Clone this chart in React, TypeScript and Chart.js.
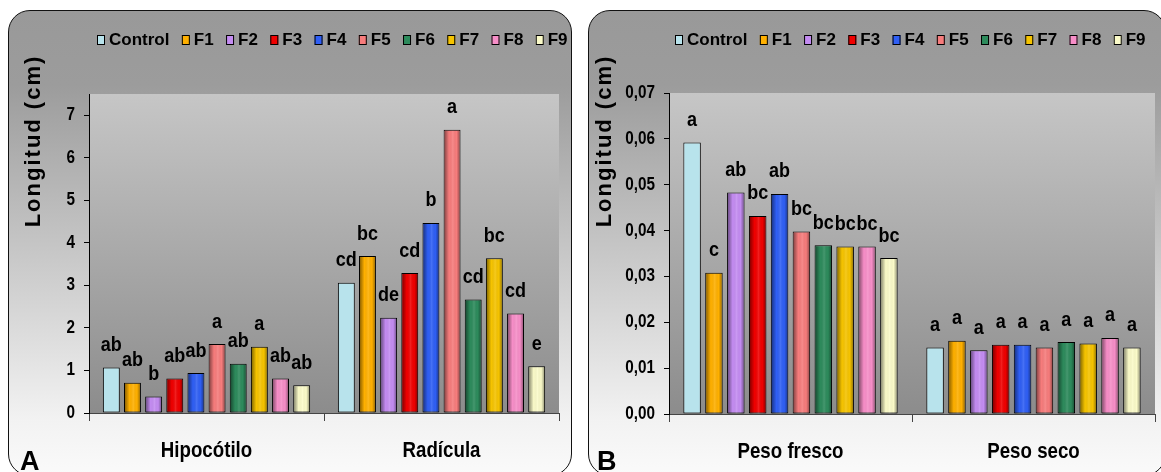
import React, { useEffect, useRef } from "react";
import { Chart, registerables } from "chart.js";

Chart.register(...registerables);

// ---------- data ----------
const seriesNames = ["Control", "F1", "F2", "F3", "F4", "F5", "F6", "F7", "F8", "F9"];

const categoriesA = ["Hipocótilo", "Radícula"];
const hipocotilo = [1.07, 0.71, 0.39, 0.81, 0.94, 1.62, 1.16, 1.56, 0.81, 0.65];
const radicula = [3.06, 3.69, 2.24, 3.29, 4.47, 6.66, 2.67, 3.64, 2.34, 1.1];
const lettersHipocotilo = ["ab", "ab", "b", "ab", "ab", "a", "ab", "a", "ab", "ab"];
const lettersRadicula = ["cd", "bc", "de", "cd", "b", "a", "cd", "bc", "cd", "e"];
const yTicksA = [0, 1, 2, 3, 4, 5, 6, 7];

const categoriesB = ["Peso fresco", "Peso seco"];
const pesoFresco = [0.0592, 0.0308, 0.0483, 0.0432, 0.048, 0.0398, 0.0368, 0.0365, 0.0365, 0.034];
const pesoSeco = [0.0145, 0.016, 0.0139, 0.0151, 0.0151, 0.0145, 0.0157, 0.0154, 0.0166, 0.0145];
const lettersPesoFresco = ["a", "c", "ab", "bc", "ab", "bc", "bc", "bc", "bc", "bc"];
const lettersPesoSeco = ["a", "a", "a", "a", "a", "a", "a", "a", "a", "a"];
const yTicksB = [0, 0.01, 0.02, 0.03, 0.04, 0.05, 0.06, 0.07];

const yTitle = "Longitud (cm)";

// ---------- styles ----------
const seriesColors = [
  "#b8e3ec", "#ffb000", "#c48cf2", "#f00000", "#2f5ff5",
  "#f77c7c", "#2d8b5c", "#f6c400", "#f78ec8", "#fbfbc9",
];
const FAMILY = "'Liberation Sans', Arial, sans-serif";
const SQUEEZE = 0.85;

type PanelCfg = {
  categories: string[];
  values: number[][];
  letters: string[][];
  yTicks: number[];
  yMax: number;
  fmt: (v: number) => string;
  padTop: number;
  padRight: number;
  xHeight: number;
  titleX: number;
  titleY: number;
  legendX: number;
  legendY: number;
  panelLetter: string;
  panelLetterX: number;
};

function drawText(
  ctx: CanvasRenderingContext2D,
  text: string,
  x: number,
  y: number,
  font: string,
  sx: number,
  align: CanvasTextAlign,
  baseline: CanvasTextBaseline
) {
  ctx.save();
  ctx.translate(x, y);
  ctx.scale(sx, 1);
  ctx.font = font;
  ctx.textAlign = align;
  ctx.textBaseline = baseline;
  ctx.fillStyle = "#000";
  ctx.fillText(text, 0, 0);
  ctx.restore();
}

function makeDecor(cfg: PanelCfg) {
  return {
    id: "panelDecor",
    beforeDraw(chart: any) {
      const { ctx, chartArea: a } = chart;
      const g = ctx.createLinearGradient(0, a.top, 0, a.bottom);
      g.addColorStop(0, "#c6c6c6");
      g.addColorStop(1, "#8c8c8c");
      ctx.save();
      ctx.fillStyle = g;
      ctx.fillRect(a.left, a.top, a.right - a.left, a.bottom - a.top);
      ctx.restore();
    },
    afterDatasetsDraw(chart: any) {
      const { ctx } = chart;
      ctx.save();
      chart.data.datasets.forEach((ds: any, i: number) => {
        const meta = chart.getDatasetMeta(i);
        meta.data.forEach((el: any, j: number) => {
          const p = el.getProps(["x", "y", "base", "width"], true);
          const l = p.x - p.width / 2 + 1;
          const r = p.x + p.width / 2 - 1;
          if (i !== 0 && r > l) {
            const g = ctx.createLinearGradient(l, 0, r, 0);
            g.addColorStop(0, "rgba(0,0,0,0.42)");
            g.addColorStop(0.3, "rgba(0,0,0,0)");
            g.addColorStop(0.55, "rgba(255,255,255,0.12)");
            g.addColorStop(0.8, "rgba(0,0,0,0)");
            g.addColorStop(1, "rgba(0,0,0,0.34)");
            ctx.fillStyle = g;
            ctx.fillRect(l, p.y + 1, r - l, p.base - p.y - 1);
          }
          drawText(ctx, ds.letters[j], p.x, p.y - 22, `bold 20px ${FAMILY}`, 0.9, "center", "middle");
        });
      });
      ctx.restore();
    },
    afterDraw(chart: any) {
      const { ctx } = chart;
      const ys = chart.scales.y;
      const xs = chart.scales.x;
      ctx.save();
      // y tick labels
      ys.ticks.forEach((t: any) => {
        const y = ys.getPixelForValue(t.value);
        drawText(ctx, cfg.fmt(t.value), ys.right - 14, y, `bold 18px ${FAMILY}`, SQUEEZE, "right", "middle");
      });
      // x category labels
      cfg.categories.forEach((c, i) => {
        const x = xs.getPixelForValue(i);
        drawText(ctx, c, x, xs.top + 38, `bold 22px ${FAMILY}`, SQUEEZE, "center", "middle");
      });
      // legend
      ctx.font = `bold 17px ${FAMILY}`;
      ctx.textBaseline = "middle";
      ctx.textAlign = "left";
      let x = cfg.legendX;
      const yc = cfg.legendY;
      chart.data.datasets.forEach((ds: any) => {
        ctx.fillStyle = ds.backgroundColor;
        ctx.fillRect(x, yc - 5, 8, 10);
        ctx.strokeStyle = "#000";
        ctx.lineWidth = 1;
        ctx.strokeRect(x + 0.5, yc - 4.5, 7, 9);
        x += 12;
        ctx.fillStyle = "#000";
        ctx.fillText(ds.label, x, yc);
        x += ctx.measureText(ds.label).width + 12.4;
      });
      // y title
      ctx.save();
      ctx.translate(cfg.titleX, cfg.titleY);
      ctx.rotate(-Math.PI / 2);
      ctx.font = `bold 22px ${FAMILY}`;
      (ctx as any).letterSpacing = "2px";
      ctx.textAlign = "center";
      ctx.textBaseline = "alphabetic";
      ctx.fillStyle = "#000";
      ctx.fillText(yTitle, 0, 0);
      ctx.restore();
      // panel letter
      drawText(ctx, cfg.panelLetter, cfg.panelLetterX, 460, `bold 27px ${FAMILY}`, 1, "left", "alphabetic");
      ctx.restore();
    },
  };
}

function makeConfig(cfg: PanelCfg): any {
  const datasets = seriesNames.map((name, i) => ({
    label: name,
    data: cfg.values.map((arr) => arr[i]),
    letters: cfg.letters.map((arr) => arr[i]),
    backgroundColor: seriesColors[i],
    borderColor: "#000",
    borderWidth: 1,
    borderSkipped: false,
    barPercentage: 0.8,
    categoryPercentage: 0.9,
  }));
  return {
    type: "bar",
    data: { labels: cfg.categories, datasets },
    plugins: [makeDecor(cfg)],
    options: {
      responsive: false,
      animation: false,
      events: [],
      layout: { padding: { left: 0, top: cfg.padTop, right: cfg.padRight, bottom: 0 } },
      plugins: { legend: { display: false }, tooltip: { enabled: false }, title: { display: false } },
      scales: {
        x: {
          type: "category",
          offset: true,
          grid: { display: true, offset: true, drawOnChartArea: false, drawTicks: true, tickLength: 8, color: "#444" },
          border: { display: true, color: "#444", width: 1 },
          ticks: { display: false },
          afterFit: (s: any) => {
            s.height = cfg.xHeight;
          },
        },
        y: {
          min: 0,
          max: cfg.yMax,
          grid: { display: true, drawOnChartArea: false, drawTicks: true, tickLength: 5, color: "#000" },
          border: { display: true, color: "#000", width: 1 },
          ticks: { display: false },
          afterBuildTicks: (s: any) => {
            s.ticks = cfg.yTicks.map((v) => ({ value: v }));
          },
          afterFit: (s: any) => {
            s.width = 81;
          },
        },
      },
    },
  };
}

const cfgA: PanelCfg = {
  categories: categoriesA,
  values: [hipocotilo, radicula],
  letters: [lettersHipocotilo, lettersRadicula],
  yTicks: yTicksA,
  yMax: 7.5,
  fmt: (v) => String(v),
  padTop: 84,
  padRight: 13,
  xHeight: 59,
  titleX: 32,
  titleY: 131,
  legendX: 89,
  legendY: 30,
  panelLetter: "A",
  panelLetterX: 12,
};

const cfgB: PanelCfg = {
  categories: categoriesB,
  values: [pesoFresco, pesoSeco],
  letters: [lettersPesoFresco, lettersPesoSeco],
  yTicks: yTicksB,
  yMax: 0.07,
  fmt: (v) => v.toFixed(2).replace(".", ","),
  padTop: 83,
  padRight: 6,
  xHeight: 58,
  titleX: 23,
  titleY: 131,
  legendX: 87,
  legendY: 30,
  panelLetter: "B",
  panelLetterX: 9,
};

const panelBg = "linear-gradient(to bottom, #999999 0%, #9c9c9c 16%, #f2f2f2 88%, #fafafa 100%)";

export default function App() {
  const refA = useRef<HTMLCanvasElement>(null);
  const refB = useRef<HTMLCanvasElement>(null);

  useEffect(() => {
    const a = new Chart(refA.current as HTMLCanvasElement, makeConfig(cfgA));
    const b = new Chart(refB.current as HTMLCanvasElement, makeConfig(cfgB));
    return () => {
      a.destroy();
      b.destroy();
    };
  }, []);

  const panel = (left: number, width: number): React.CSSProperties => ({
    position: "absolute",
    left,
    top: 10,
    width,
    height: 466,
    boxSizing: "border-box",
    border: "1.5px solid #111",
    borderRadius: 22,
    background: panelBg,
  });

  return (
    <div
      style={{
        position: "fixed",
        left: 0,
        top: 0,
        width: 1161,
        height: 472,
        overflow: "hidden",
        background: "#ffffff",
      }}
    >
      <div style={panel(8, 564)} />
      <div style={panel(588, 578)} />
      <canvas
        ref={refA}
        width={564}
        height={462}
        style={{ position: "absolute", left: 8, top: 10, width: 564, height: 462 }}
      />
      <canvas
        ref={refB}
        width={573}
        height={462}
        style={{ position: "absolute", left: 588, top: 10, width: 573, height: 462 }}
      />
    </div>
  );
}
